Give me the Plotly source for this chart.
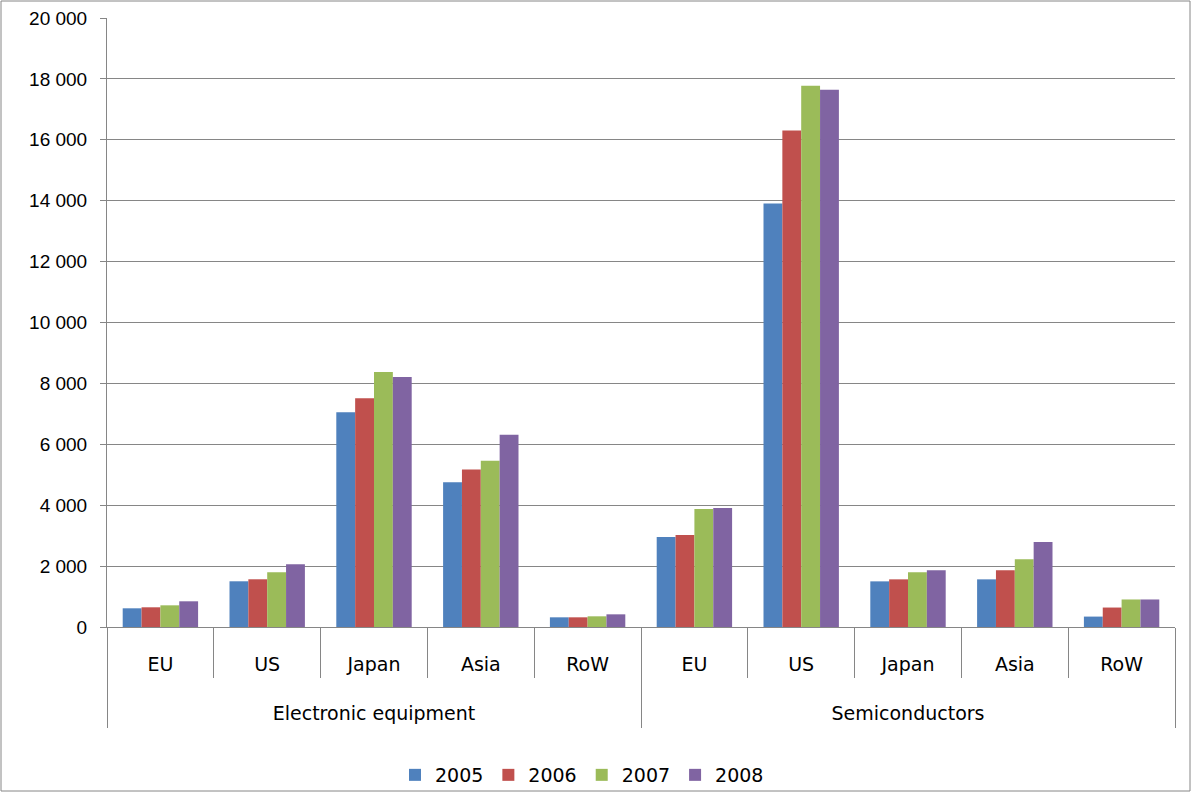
import plotly.graph_objects as go

group_names = ["Electronic equipment", "Semiconductors"]
regions = ["EU", "US", "Japan", "Asia", "RoW"]
years = ["2005", "2006", "2007", "2008"]

v2005 = [614, 1501, 7050, 4753, 318, 2953, 13910, 1499, 1565, 342]
v2006 = [647, 1567, 7515, 5172, 318, 3019, 16307, 1565, 1862, 639]
v2007 = [712, 1797, 8375, 5462, 351, 3879, 17779, 1796, 2226, 904]
v2008 = [844, 2060, 8210, 6311, 416, 3912, 17647, 1862, 2788, 904]

colors = ["#4F81BD", "#C0504D", "#9BBB59", "#8064A2"]
series = [v2005, v2006, v2007, v2008]

CAT_FONT = "DejaVu Sans, sans-serif"
NUM_FONT = "Liberation Sans, Arial, sans-serif"
AXIS_GRAY = "#868686"

cats = [f"{g}|{r}" for g in group_names for r in regions]
inner = [r for g in group_names for r in regions]
n = len(cats)
ng = len(regions)
# category slot boundaries (index space of the category axis)
inner_bounds = [i - 0.5 for i in range(1, n) if i % ng != 0]
outer_bounds = [k * ng - 0.5 for k in range(len(group_names) + 1)]
group_centers = [k * ng + (ng - 1) / 2 for k in range(len(group_names))]

fig = go.Figure()
for name, vals, col in zip(years, series, colors):
    fig.add_trace(go.Bar(x=cats, y=vals, name=name,
                         marker=dict(color=col, line=dict(width=0))))

# empty helper traces so the overlay axes (group labels / dividers) are drawn
for ax in ("x2", "x3"):
    fig.add_trace(go.Scatter(x=[], y=[], xaxis=ax, yaxis="y", mode="markers",
                             showlegend=False, hoverinfo="skip"))

W, H = 1192, 793
ml, mr, mt, mb = 107, 17, 18, 166
pw, ph = W - ml - mr, H - mt - mb

xr = [-0.5, n - 0.5]

fig.update_layout(
    width=W, height=H,
    margin=dict(l=ml, r=mr, t=mt, b=mb, pad=0, autoexpand=False),
    paper_bgcolor="white", plot_bgcolor="white",
    barmode="group", bargap=0.294, bargroupgap=0,
    separators=". ",
    font=dict(family=CAT_FONT, size=19, color="#000000"),
    showlegend=True,
    legend=dict(orientation="h", x=(582 - ml) / pw, xanchor="center",
                y=-(775 - 627) / ph, yanchor="middle",
                font=dict(family=CAT_FONT, size=19),
                bgcolor="rgba(0,0,0,0)",
                itemwidth=30, traceorder="normal"),
    xaxis=dict(type="category", categoryorder="array", categoryarray=cats,
               range=xr, tickmode="array", tickvals=cats, ticktext=inner,
               showline=True, linecolor=AXIS_GRAY, linewidth=1,
               ticks="", ticklabelstandoff=20, showgrid=False,
               tickfont=dict(family=CAT_FONT, size=19)),
    xaxis2=dict(overlaying="x", anchor="y", side="bottom", type="linear",
                range=xr, tickmode="array", tickvals=group_centers,
                ticktext=group_names, ticks="", ticklabelstandoff=73,
                showline=False, showgrid=False, zeroline=False,
                tickfont=dict(family=CAT_FONT, size=19),
                minor=dict(tickmode="array", tickvals=outer_bounds,
                           ticks="outside", ticklen=100, tickcolor=AXIS_GRAY,
                           tickwidth=1, showgrid=False)),
    xaxis3=dict(overlaying="x", anchor="y", side="bottom", type="linear",
                range=xr, tickmode="array", tickvals=inner_bounds,
                ticks="outside", ticklen=50, tickcolor=AXIS_GRAY, tickwidth=1,
                showticklabels=False, showline=False, showgrid=False,
                zeroline=False),
    yaxis=dict(range=[0, 20000], dtick=2000, tickformat=",d",
               showgrid=True, gridcolor=AXIS_GRAY, gridwidth=1,
               showline=True, linecolor=AXIS_GRAY, linewidth=1,
               ticks="outside", ticklen=6, tickcolor=AXIS_GRAY,
               ticklabelstandoff=9,
               tickfont=dict(family=NUM_FONT, size=19), zeroline=False),
    shapes=[dict(type="rect", xref="paper", yref="paper",
                 x0=-(ml - 1) / pw, x1=1 + (mr - 2) / pw,
                 y0=-(mb - 2) / ph, y1=1 + (mt - 1) / ph,
                 line=dict(color=AXIS_GRAY, width=1))],
)

fig.write_html("out.html", config={"displayModeBar": False},
               post_script="document.body.style.margin='0';document.body.style.padding='0';")
